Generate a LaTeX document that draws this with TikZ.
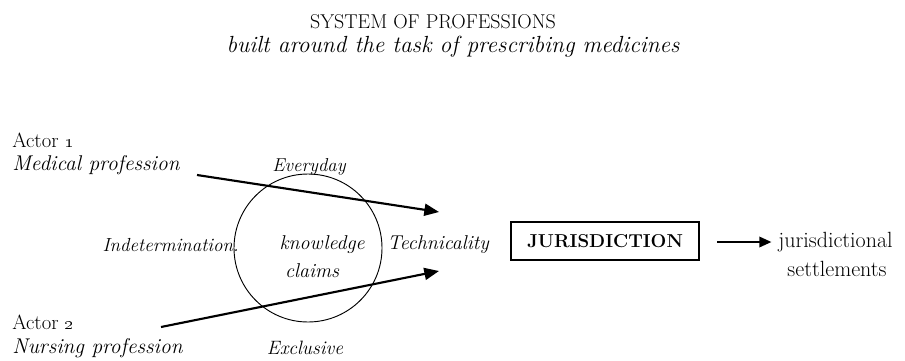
\documentclass[tikz,border=0pt]{standalone}
\usetikzlibrary{arrows.meta}
\begin{document}
\begin{tikzpicture}[x=0.75pt,y=-0.75pt,
  txt/.style={inner sep=0pt,font=\fontsize{#1}{#1}\selectfont},
  itxt/.style={inner sep=0pt,font=\fontsize{#1}{#1}\selectfont\itshape},
  thick arrow/.style={line width=1.6pt,-{Triangle[width=9pt,length=11pt]}},
  thin arrow/.style={line width=1pt,-{Triangle[width=8pt,length=9pt]}}]
\useasboundingbox (0,0) rectangle (905,360);
\node[txt=15] (title) at (433,22) {SYSTEM OF PROFESSIONS};
\node[itxt=17.5] (sub) at (453,47) {built around the task of prescribing medicines};
\node[txt=15.5,anchor=west] (a1) at (12,140) {Actor \oldstylenums{1}};
\node[itxt=16,anchor=west] (m1) at (12,165) {Medical profession};
\node[txt=15.5,anchor=west] (a2) at (12,322) {Actor \oldstylenums{2}};
\node[itxt=16,anchor=west] (m2) at (12,348) {Nursing profession};
\node[itxt=14] (every) at (309,167) {Everyday};
\node[itxt=14.5] (excl) at (305,348) {Exclusive};
\node[itxt=14.2,anchor=east] (indet) at (239,245) {Indetermination.};
\node[itxt=15,anchor=west] (tech) at (387,245) {Technicality};
\node[draw,circle,minimum size=111pt,line width=0.7pt,inner sep=0pt] (circ) at (308,248) {};
\node[itxt=15] (know) at (322,245) {knowledge};
\node[itxt=15] (claims) at (312,271) {claims};
\node[draw,line width=2pt,minimum width=141pt,minimum height=28.5pt,inner sep=0pt,
  font=\fontsize{14}{14}\selectfont\bfseries] (jur) at (605,241) {JURISDICTION};
\node[txt=16.5,anchor=west] (js) at (778,242) {jurisdictional};
\node[txt=16.5] (st) at (837,269) {settlements};
\coordinate (s1) at (197,175);
\coordinate (e1) at (439,212);
\coordinate (s2) at (161,327);
\coordinate (e2) at (439,271);
\draw[thick arrow] (s1) -- (e1);
\draw[thick arrow] (s2) -- (e2);
\coordinate (j1) at (717,242);
\draw[thin arrow] (j1) -- ([xshift=-5pt]js.west);
\end{tikzpicture}
\end{document}
